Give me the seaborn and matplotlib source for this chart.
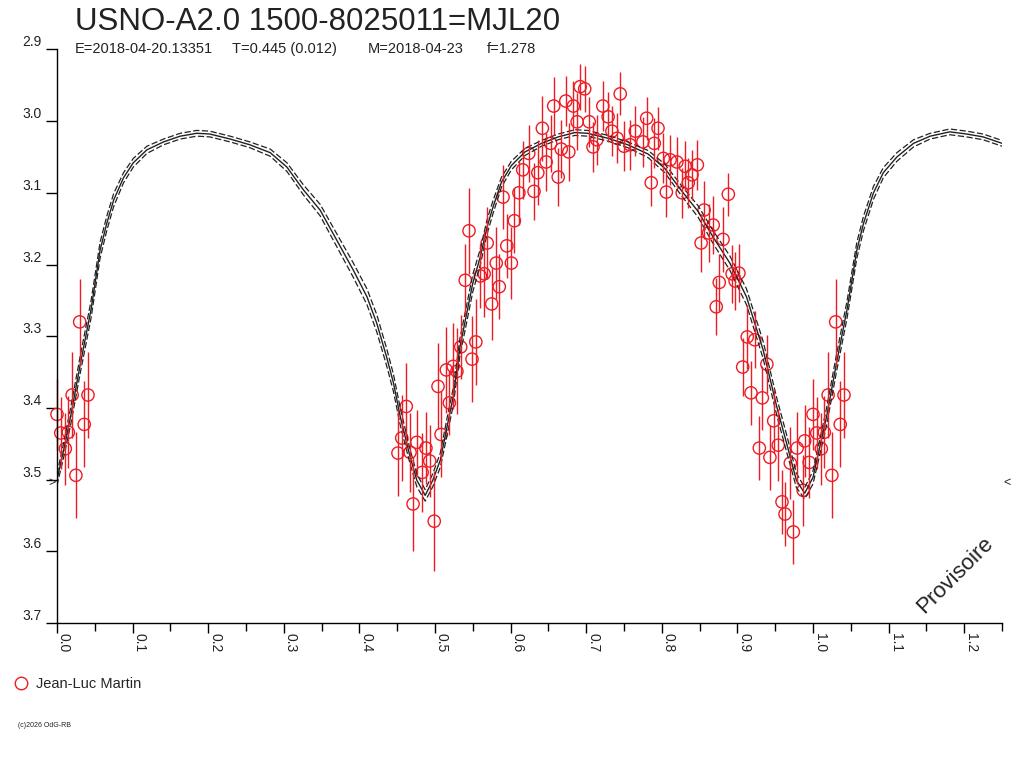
import numpy as np
import pandas as pd
import seaborn as sns
import matplotlib
matplotlib.use('Agg')
import matplotlib.pyplot as plt
from matplotlib.lines import Line2D

# model light curve (phase, magnitude, half width of the dashed band)
model_phase = [0.000, 0.009, 0.018, 0.031, 0.045, 0.057, 0.066, 0.075, 0.088, 0.101,
               0.119, 0.141, 0.163, 0.185, 0.202, 0.229, 0.255, 0.282, 0.304, 0.326,
               0.348, 0.370, 0.392, 0.410, 0.423, 0.436, 0.445, 0.454, 0.467, 0.476,
               0.487, 0.497, 0.507, 0.516, 0.524, 0.533, 0.542, 0.550, 0.560, 0.569,
               0.577, 0.588, 0.601, 0.619, 0.641, 0.663, 0.685, 0.702, 0.729, 0.755,
               0.782, 0.804, 0.826, 0.848, 0.868, 0.890, 0.912, 0.934, 0.952, 0.965,
               0.978, 0.989, 1.000, 1.018, 1.031, 1.045, 1.058, 1.067, 1.080, 1.093,
               1.111, 1.133, 1.155, 1.181, 1.203, 1.225, 1.250]
model_mag = [3.500, 3.458, 3.412, 3.338, 3.263, 3.180, 3.142, 3.110, 3.079, 3.058,
             3.040, 3.029, 3.021, 3.017, 3.018, 3.025, 3.033, 3.044, 3.064, 3.096,
             3.124, 3.166, 3.208, 3.245, 3.282, 3.329, 3.365, 3.412, 3.468, 3.501,
             3.522, 3.501, 3.473, 3.426, 3.385, 3.315, 3.268, 3.226, 3.189, 3.147,
             3.119, 3.085, 3.062, 3.043, 3.031, 3.022, 3.016, 3.017, 3.024, 3.033,
             3.046, 3.066, 3.097, 3.126, 3.162, 3.198, 3.245, 3.319, 3.398, 3.449,
             3.501, 3.519, 3.497, 3.412, 3.338, 3.263, 3.180, 3.142, 3.100, 3.072,
             3.050, 3.031, 3.021, 3.015, 3.018, 3.022, 3.031]
model_spread = [0.008, 0.010, 0.012, 0.012, 0.012, 0.011, 0.010, 0.009, 0.007, 0.006,
                0.005, 0.004, 0.004, 0.004, 0.004, 0.004, 0.004, 0.005, 0.006, 0.007,
                0.008, 0.009, 0.010, 0.011, 0.012, 0.012, 0.012, 0.012, 0.010, 0.009,
                0.008, 0.009, 0.010, 0.012, 0.012, 0.012, 0.012, 0.012, 0.011, 0.010,
                0.009, 0.007, 0.006, 0.005, 0.004, 0.004, 0.004, 0.004, 0.004, 0.004,
                0.005, 0.006, 0.007, 0.008, 0.009, 0.010, 0.011, 0.012, 0.012, 0.012,
                0.010, 0.008, 0.009, 0.012, 0.012, 0.012, 0.011, 0.010, 0.009, 0.007,
                0.006, 0.005, 0.004, 0.004, 0.004, 0.004, 0.004]

# observations (Jean-Luc Martin)
obs_phase = [0.451, 0.456, 0.462, 0.467, 0.471, 0.476, 0.483, 0.488, 0.493, 0.499,
             0.504, 0.508, 0.515, 0.519, 0.524, 0.529, 0.534, 0.540, 0.545, 0.549,
             0.554, 0.560, 0.565, 0.569, 0.575, 0.581, 0.585, 0.590, 0.595, 0.601,
             0.605, 0.611, 0.616, 0.624, 0.631, 0.636, 0.642, 0.647, 0.653, 0.657,
             0.663, 0.667, 0.673, 0.677, 0.683, 0.688, 0.692, 0.698, 0.704, 0.709,
             0.714, 0.722, 0.729, 0.734, 0.741, 0.745, 0.750, 0.758, 0.765, 0.775,
             0.780, 0.786, 0.790, 0.795, 0.802, 0.806, 0.811, 0.820, 0.827, 0.831,
             0.835, 0.840, 0.847, 0.852, 0.856, 0.862, 0.868, 0.872, 0.876, 0.881,
             0.888, 0.893, 0.897, 0.902, 0.907, 0.913, 0.918, 0.923, 0.929, 0.933,
             0.939, 0.943, 0.948, 0.954, 0.959, 0.963, 0.970, 0.974, 0.979, 0.987,
             0.989, 0.995, 1.000, 1.005, 1.011, 1.015, 1.020, 1.025, 1.030, 1.036,
             1.041]
obs_mag = [3.463, 3.442, 3.398, 3.462, 3.534, 3.448, 3.490, 3.456, 3.474, 3.558,
           3.370, 3.437, 3.347, 3.393, 3.342, 3.349, 3.315, 3.222, 3.153, 3.332,
           3.308, 3.216, 3.213, 3.170, 3.255, 3.198, 3.231, 3.106, 3.174, 3.198,
           3.139, 3.100, 3.068, 3.045, 3.098, 3.072, 3.010, 3.057, 3.031, 2.979,
           3.078, 3.039, 2.972, 3.043, 2.979, 3.001, 2.952, 2.955, 3.001, 3.036,
           3.026, 2.979, 2.994, 3.014, 3.024, 2.962, 3.035, 3.033, 3.014, 3.029,
           2.996, 3.086, 3.031, 3.010, 3.052, 3.099, 3.054, 3.057, 3.100, 3.063,
           3.086, 3.075, 3.061, 3.170, 3.124, 3.156, 3.145, 3.259, 3.225, 3.165,
           3.102, 3.213, 3.223, 3.212, 3.343, 3.301, 3.379, 3.305, 3.456, 3.386,
           3.339, 3.469, 3.418, 3.452, 3.531, 3.548, 3.477, 3.573, 3.456, 3.515,
           3.446, 3.476, 3.409, 3.435, 3.457, 3.434, 3.382, 3.494, 3.280, 3.423,
           3.382]
obs_err = [0.060, 0.060, 0.060, 0.055, 0.065, 0.045, 0.055, 0.050, 0.050, 0.070,
           0.060, 0.060, 0.060, 0.045, 0.060, 0.060, 0.045, 0.050, 0.060, 0.060,
           0.060, 0.045, 0.060, 0.050, 0.050, 0.050, 0.045, 0.045, 0.045, 0.050,
           0.045, 0.045, 0.040, 0.040, 0.040, 0.045, 0.045, 0.040, 0.040, 0.040,
           0.040, 0.040, 0.035, 0.040, 0.035, 0.040, 0.032, 0.032, 0.035, 0.035,
           0.035, 0.035, 0.035, 0.035, 0.035, 0.030, 0.035, 0.035, 0.035, 0.035,
           0.030, 0.032, 0.035, 0.030, 0.035, 0.035, 0.035, 0.035, 0.035, 0.035,
           0.035, 0.035, 0.035, 0.040, 0.040, 0.040, 0.040, 0.040, 0.040, 0.045,
           0.030, 0.040, 0.040, 0.040, 0.040, 0.045, 0.045, 0.040, 0.045, 0.045,
           0.040, 0.045, 0.045, 0.050, 0.045, 0.045, 0.050, 0.045, 0.050, 0.050,
           0.050, 0.050, 0.050, 0.050, 0.050, 0.050, 0.060, 0.060, 0.060, 0.060,
           0.060]

x_ticks = [0.0, 0.1, 0.2, 0.3, 0.4, 0.5, 0.6, 0.7, 0.8, 0.9, 1.0, 1.1, 1.2]
y_ticks = [2.9, 3.0, 3.1, 3.2, 3.3, 3.4, 3.5, 3.6, 3.7]
mark_mag = 3.505

title = 'USNO-A2.0 1500-8025011=MJL20'
subtitle_parts = ['E=2018-04-20.13351', 'T=0.445 (0.012)', 'M=2018-04-23', 'f=1.278']
subtitle_x = [75, 232, 368, 487]
observer = 'Jean-Luc Martin'
red = '#ee1c24'
ink = '#222222'

sns.set_theme(style='white')
plt.rcParams['font.family'] = ['Liberation Sans', 'DejaVu Sans']

model = pd.DataFrame({'phase': model_phase, 'mag': model_mag, 'spread': model_spread})
model['hi'] = model['mag'] - model['spread']
model['lo'] = model['mag'] + model['spread']

obs = pd.DataFrame({'phase': obs_phase, 'mag': obs_mag, 'err': obs_err})
# points past phase 1 are shown again one cycle earlier
wrap = obs[obs['phase'] >= 1.0].assign(phase=lambda d: d['phase'] - 1.0)
obs_all = pd.concat([obs, wrap], ignore_index=True)

fig = plt.figure(figsize=(10.24, 7.68), dpi=100)
ax = fig.add_axes([57 / 1024, 1 - 623 / 768, 945 / 1024, 573.6 / 768])

sns.lineplot(data=model, x='phase', y='hi', ax=ax, sort=False, color=ink,
             lw=0.9, linestyle=(0, (5, 2)))
sns.lineplot(data=model, x='phase', y='lo', ax=ax, sort=False, color=ink,
             lw=0.9, linestyle=(0, (5, 2)))
sns.lineplot(data=model, x='phase', y='mag', ax=ax, sort=False, color=ink, lw=1.0)

ax.errorbar(obs_all['phase'], obs_all['mag'], yerr=obs_all['err'], fmt='none',
            ecolor=red, elinewidth=1, capsize=0, clip_on=False)
sns.scatterplot(data=obs_all, x='phase', y='mag', ax=ax, marker='o', s=78,
                facecolor='none', edgecolor=red, linewidth=1, clip_on=False)

ax.set_xlim(0, 1.25)
ax.set_ylim(3.7, 2.9)
ax.set_xlabel('')
ax.set_ylabel('')
ax.set_xticks(x_ticks)
ax.set_xticklabels([f'{t:.1f}' for t in x_ticks])
ax.set_xticks(np.array(x_ticks) + 0.05, minor=True)
ax.set_yticks(y_ticks)
ax.set_yticklabels([f'{t:.1f}' for t in y_ticks])

for side in ['top', 'right']:
    ax.spines[side].set_visible(False)
for side in ['left', 'bottom']:
    ax.spines[side].set_color('black')
    ax.spines[side].set_linewidth(1)

ax.tick_params(axis='x', which='major', direction='out', length=7.2, width=1,
               color='black', labelsize=10, labelcolor=ink, pad=0,
               labelrotation=270, bottom=True)
ax.tick_params(axis='x', which='minor', direction='out', length=5.8, width=1,
               color='black', bottom=True)
ax.tick_params(axis='y', which='major', direction='out', length=8, width=1,
               color='black', labelsize=10, labelcolor=ink, pad=3, left=True)
for lbl in ax.get_xticklabels():
    lbl.set_ha('left')
for lbl in ax.get_yticklabels():
    lbl.set_va('bottom')

ax.annotate('>', xy=(0, mark_mag), xytext=(-1, 0), textcoords='offset points',
            ha='right', va='center', fontsize=9, color=ink, annotation_clip=False)
ax.annotate('<', xy=(1.25, mark_mag), xytext=(1, 0), textcoords='offset points',
            ha='left', va='center', fontsize=9, color=ink, annotation_clip=False)

fig.text(75 / 1024, 1 - 30 / 768, title, fontsize=22.5, color=ink, va='baseline')
for part, px in zip(subtitle_parts, subtitle_x):
    fig.text(px / 1024, 1 - 53 / 768, part, fontsize=10.5, color=ink, va='baseline')
fig.text(955 / 1024, 1 - 575 / 768, 'Provisoire', rotation=45, ha='center',
         va='center', fontsize=16, color=ink)

handle = Line2D([], [], marker='o', ls='none', mfc='none', mec=red, ms=9, mew=1)
fig.legend(handles=[handle], labels=[observer], loc='center left',
           bbox_to_anchor=(8 / 1024, 1 - 684 / 768), frameon=False,
           handlelength=1, handletextpad=0.5, borderaxespad=0, fontsize=10.5)
fig.text(18 / 1024, 1 - 727 / 768, '(c)2026 OdG-RB', fontsize=5, color=ink)

fig.savefig('out.png', dpi=100)
